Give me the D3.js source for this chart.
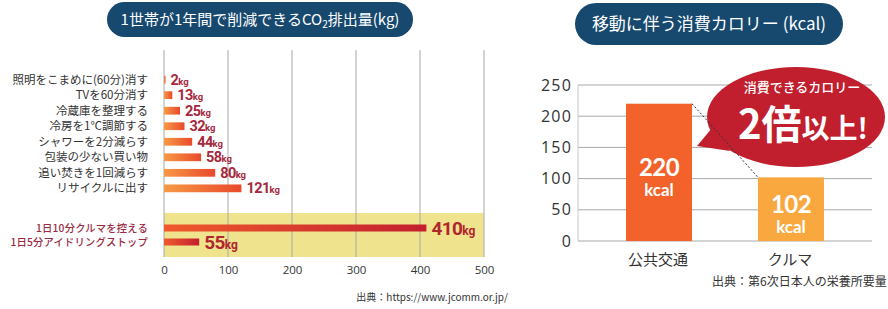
<!DOCTYPE html>
<html>
<head>
<meta charset="utf-8">
<script src="https://cdn.jsdelivr.net/npm/d3@7"></script>
<style>
  body { margin: 0; background: #fff; }
  svg { display: block; font-family: "Noto Sans CJK JP", "Noto Sans", sans-serif; }
</style>
</head>
<body>
<svg id="chart" width="888" height="309"></svg>
<script>
// left chart: household CO2 reduction (kg / year)
var co2Labels = ["照明をこまめに(60分)消す", "TVを60分消す", "冷蔵庫を整理する", "冷房を1℃調節する",
                 "シャワーを2分減らす", "包装の少ない買い物", "追い焚きを1回減らす", "リサイクルに出す"];
var co2Values = [2, 13, 25, 32, 44, 58, 80, 121];
var carLabels = ["1日10分クルマを控える", "1日5分アイドリングストップ"];
var carValues = [410, 55];
var co2Ticks = [0, 100, 200, 300, 400, 500];

// right chart: calories burned by mode of travel
var modeLabels = ["公共交通", "クルマ"];
var kcalValues = [220, 102];
var kcalTicks = [0, 50, 100, 150, 200, 250];

var svg = d3.select("#chart");
var defs = svg.append("defs");

function grad(id, c0, c1) {
  var g = defs.append("linearGradient").attr("id", id)
    .attr("x1", "0%").attr("x2", "100%").attr("y1", "0%").attr("y2", "0%");
  g.append("stop").attr("offset", "0%").attr("stop-color", c0);
  g.append("stop").attr("offset", "100%").attr("stop-color", c1);
}
grad("gTop", "#f79a45", "#e9492b");
grad("gCar", "#ef5a2c", "#c31f2e");

// title pills
function pill(cx, cy, w, h, size) {
  var g = svg.append("g");
  g.append("rect").attr("x", cx - w / 2).attr("y", cy - h / 2)
    .attr("width", w).attr("height", h).attr("rx", h / 2).attr("fill", "#17496f");
  return g.append("text").attr("x", cx).attr("y", cy + size * 0.36)
    .attr("text-anchor", "middle").attr("fill", "#fff").attr("font-size", size);
}

var t1 = pill(260, 19.5, 306, 35, 15);
t1.append("tspan").text("1世帯が1年間で削減できるCO");
t1.append("tspan").attr("font-size", 10).attr("dy", 3).text("2");
t1.append("tspan").attr("dy", -3).text("排出量(kg)");

pill(709, 24, 268, 42, 17).text("移動に伴う消費カロリー (kcal)");

// ---------- left chart ----------
var x = d3.scaleLinear().domain([0, 500]).range([164, 484]);
var yTop = d3.scaleBand().domain(co2Labels).range([68, 200]).padding(0.5);
var yCar = d3.scaleBand().domain(carLabels).range([217.5, 252.5]).padding(0.5);

// yellow highlight
svg.append("rect").attr("x", x(0)).attr("y", 213)
  .attr("width", x(500) - x(0)).attr("height", 44).attr("fill", "#f0e38e");

// gridlines
svg.append("g").selectAll("line").data(co2Ticks).join("line")
  .attr("x1", d => x(d)).attr("x2", d => x(d))
  .attr("y1", 50).attr("y2", 257)
  .attr("stroke", "#a8a8a8").attr("stroke-width", 1);

var xAxis = svg.append("g").attr("transform", "translate(0,257)")
  .call(d3.axisBottom(x).tickValues(co2Ticks).tickSize(0).tickPadding(9));
xAxis.select(".domain").remove();
xAxis.selectAll("text").attr("font-size", 11.5).attr("fill", "#333")
  .attr("font-family", "'Open Sans', sans-serif");

// category labels
svg.append("g").selectAll("text").data(co2Labels).join("text")
  .attr("x", 148).attr("y", d => yTop(d) + yTop.bandwidth() / 2 + 4)
  .attr("text-anchor", "end").attr("font-size", 11.5).attr("fill", "#333")
  .text(d => d);
svg.append("g").selectAll("text").data(carLabels).join("text")
  .attr("x", 148).attr("y", d => yCar(d) + yCar.bandwidth() / 2 + 4)
  .attr("text-anchor", "end").attr("font-size", 10.3).attr("font-weight", 500)
  .attr("letter-spacing", 0.2).attr("fill", "#9a2b45").text(d => d);

// bars
var topRows = co2Labels.map((k, i) => ({ k: k, v: co2Values[i] }));
var carRows = carLabels.map((k, i) => ({ k: k, v: carValues[i] }));

svg.append("g").selectAll("rect").data(topRows).join("rect")
  .attr("x", x(0)).attr("y", d => yTop(d.k))
  .attr("width", d => Math.max(1.5, x(d.v) - x(0))).attr("height", yTop.bandwidth())
  .attr("fill", "url(#gTop)");
svg.append("g").selectAll("rect").data(carRows).join("rect")
  .attr("x", x(0)).attr("y", d => yCar(d.k))
  .attr("width", d => x(d.v) - x(0)).attr("height", yCar.bandwidth())
  .attr("fill", "url(#gCar)");

// value labels
function valueLabels(rows, band, size, unit, dy, color) {
  var t = svg.append("g").selectAll("text").data(rows).join("text")
    .attr("x", d => Math.max(x(d.v), x(0) + 1.5) + 5)
    .attr("y", d => band(d.k) + band.bandwidth() / 2 + dy)
    .attr("fill", color).attr("font-weight", 700)
    .attr("font-family", "Roboto, sans-serif").attr("letter-spacing", -0.6);
  t.append("tspan").attr("font-size", size).text(d => d.v);
  t.append("tspan").attr("font-size", unit).attr("letter-spacing", 0).text("kg");
}
valueLabels(topRows, yTop, 14.5, 9.5, 5, "#a6283d");
valueLabels(carRows, yCar, 19, 12, 6.5, "#b1262c");

svg.append("text").attr("x", 508).attr("y", 301).attr("text-anchor", "end")
  .attr("font-size", 10).attr("fill", "#333").text("出典：https://www.jcomm.or.jp/");

// ---------- right chart ----------
var bx = d3.scaleBand().domain(modeLabels).range([593, 857]).paddingInner(0.5).paddingOuter(0.25);
var by = d3.scaleLinear().domain([0, 250]).range([241, 85]);

svg.append("g").selectAll("line").data(kcalTicks).join("line")
  .attr("x1", 578).attr("x2", 872)
  .attr("y1", d => by(d)).attr("y2", d => by(d))
  .attr("stroke", "#a8a8a8").attr("stroke-width", 1);
svg.append("line").attr("x1", 578).attr("x2", 578).attr("y1", by(250)).attr("y2", by(0))
  .attr("stroke", "#c8c8c8");

var yAxis = svg.append("g").attr("transform", "translate(578,0)")
  .call(d3.axisLeft(by).tickValues(kcalTicks).tickSize(0).tickPadding(6));
yAxis.select(".domain").remove();
yAxis.selectAll("text").attr("font-size", 16).attr("fill", "#333")
  .attr("font-family", "'Open Sans', sans-serif").attr("letter-spacing", 1.2);

var kRows = modeLabels.map((k, i) => ({ k: k, v: kcalValues[i] }));
var kColors = ["#f2622a", "#f8a83f"];

svg.append("g").selectAll("rect").data(kRows).join("rect")
  .attr("x", d => bx(d.k)).attr("y", d => by(d.v))
  .attr("width", bx.bandwidth()).attr("height", d => by(0) - by(d.v))
  .attr("fill", (d, i) => kColors[i]);

svg.append("g").selectAll("text").data(modeLabels).join("text")
  .attr("x", d => bx(d) + bx.bandwidth() / 2 - 1).attr("y", 265)
  .attr("text-anchor", "middle").attr("font-size", 15).attr("fill", "#333")
  .text(d => d);

var inLbl = svg.append("g").selectAll("g").data(kRows).join("g")
  .attr("transform", d => "translate(" + (bx(d.k) + bx.bandwidth() / 2) + "," + ((by(d.v) + by(0)) / 2) + ")");
inLbl.append("text").attr("y", 4).attr("text-anchor", "middle")
  .attr("font-family", "Lato, sans-serif").attr("font-weight", 700)
  .attr("font-size", 24).attr("fill", "#fff").attr("letter-spacing", -0.5).text(d => d.v);
inLbl.append("text").attr("y", 24).attr("text-anchor", "middle")
  .attr("font-family", "Lato, sans-serif").attr("font-weight", 700)
  .attr("font-size", 17).attr("fill", "#fff").text("kcal");

// speech bubble
var bub = svg.append("g");
bub.append("path")
  .attr("d", "M712,128 L697,146 L730,151 Z").attr("fill", "#c21f2e");
bub.append("ellipse").attr("cx", 796).attr("cy", 117).attr("rx", 89).attr("ry", 50)
  .attr("fill", "#c21f2e");
bub.append("text").attr("x", 802).attr("y", 92).attr("text-anchor", "middle")
  .attr("font-size", 13).attr("font-weight", 500).attr("fill", "#fff").text("消費できるカロリー");
var big = bub.append("text").attr("x", 803).attr("y", 139).attr("text-anchor", "middle")
  .attr("fill", "#fff").attr("font-weight", 700);
big.append("tspan").attr("font-size", 40).text("2倍");
big.append("tspan").attr("font-size", 28).text("以上!");

// dotted connector between bar tops
svg.append("line")
  .attr("x1", bx(modeLabels[0]) + bx.bandwidth()).attr("y1", by(kcalValues[0]))
  .attr("x2", bx(modeLabels[1])).attr("y2", by(kcalValues[1]))
  .attr("stroke", "#333").attr("stroke-width", 1).attr("stroke-dasharray", "2,2");

svg.append("text").attr("x", 712).attr("y", 286)
  .attr("font-size", 12).attr("fill", "#333").text("出典：第6次日本人の栄養所要量");
</script>
</body>
</html>
